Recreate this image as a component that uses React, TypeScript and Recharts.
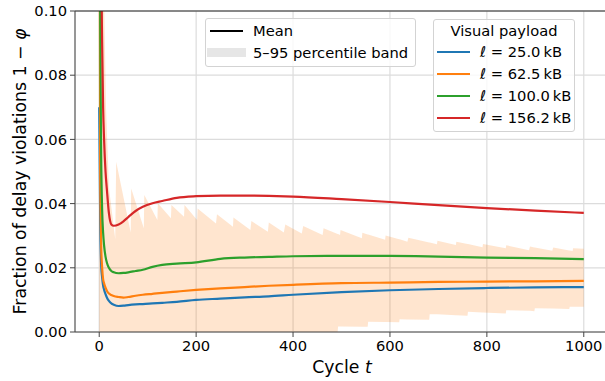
import {
  CartesianGrid,
  ComposedChart,
  Area,
  Line,
  ReferenceLine,
  XAxis,
  YAxis,
} from 'recharts';

const FONT = '"DejaVu Sans", sans-serif';

// cycle grid for the mean curves
const cycles = [0, 2, 4, 6, 8, 10, 13, 16, 20, 25, 30, 40, 50, 60, 75, 90, 110, 130, 160, 200, 250, 300, 350, 400, 500, 600, 700, 800, 900, 1000];

const mean25 = [0.07, 0.035, 0.021, 0.017, 0.0145, 0.0132, 0.0118, 0.0107, 0.0097, 0.0089, 0.0085, 0.0081, 0.0082, 0.0084, 0.0086, 0.0087, 0.0089, 0.0091, 0.0094, 0.01, 0.0104, 0.0108, 0.0111, 0.0116, 0.0124, 0.013, 0.0134, 0.0137, 0.0139, 0.014];
const mean62 = [0.2, 0.05, 0.027, 0.02, 0.0165, 0.0152, 0.0138, 0.0128, 0.012, 0.0115, 0.0112, 0.0109, 0.0107, 0.0109, 0.0113, 0.0116, 0.0119, 0.0122, 0.0126, 0.0131, 0.0136, 0.014, 0.0144, 0.0147, 0.0152, 0.0154, 0.0156, 0.0157, 0.0158, 0.0159];
const mean100 = [0.25, 0.1, 0.055, 0.038, 0.031, 0.027, 0.0235, 0.0215, 0.02, 0.019, 0.0186, 0.0183, 0.0184, 0.0186, 0.019, 0.0194, 0.0203, 0.0209, 0.0213, 0.0217, 0.0228, 0.0232, 0.0234, 0.0236, 0.0237, 0.0237, 0.0235, 0.0232, 0.023, 0.0227];
const mean156 = [0.35, 0.2, 0.12, 0.09, 0.07, 0.06, 0.05, 0.044, 0.037, 0.0335, 0.0331, 0.0335, 0.0345, 0.0358, 0.0377, 0.039, 0.0401, 0.0408, 0.0418, 0.0423, 0.0425, 0.0425, 0.0424, 0.0422, 0.0414, 0.0405, 0.0395, 0.0386, 0.0378, 0.0371];

// 5-95 percentile band (shown for l = 62.5 kB)
const bandT = [0, 10, 14, 20, 33, 35, 65, 66, 92, 93, 120, 121, 148, 149, 175, 176, 202, 203, 241, 243, 276, 277, 312, 314, 348, 350, 381, 384, 418, 421, 461, 463, 492, 493, 497, 498, 542, 543, 554, 555, 590, 591, 619, 620, 636, 638, 681, 682, 697, 698, 736, 737, 760, 761, 791, 792, 839, 840, 887, 889, 898, 899, 935, 937, 970, 971, 977, 978, 1000];
const bandLow = [0, 0, 0, 0, 0, 0, 0, 0, 0, 0, 0, 0, 0, 0, 0, 0, 0, 0, 0, 0, 0, 0, 0, 0, 0, 0, 0, 0, 0, 0, 0, 0, 0, 0.0017, 0.0017, 0.0017, 0.0016, 0.0016, 0.0016, 0.0032, 0.0031, 0.0031, 0.003, 0.004, 0.0039, 0.0039, 0.0038, 0.0055, 0.0055, 0.0055, 0.0052, 0.0052, 0.0051, 0.0063, 0.0061, 0.0061, 0.0058, 0.0068, 0.0066, 0.0066, 0.0065, 0.0074, 0.0073, 0.0073, 0.0072, 0.0079, 0.0079, 0.0079, 0.0079];
const bandHigh = [0.12, 0.105, 0.07, 0.045, 0.029, 0.053, 0.031, 0.0447, 0.0323, 0.0427, 0.0349, 0.0401, 0.0354, 0.0396, 0.0359, 0.0396, 0.0349, 0.0385, 0.0338, 0.0367, 0.0328, 0.0357, 0.0318, 0.0346, 0.0312, 0.0341, 0.031, 0.0335, 0.0307, 0.033, 0.0302, 0.0323, 0.0305, 0.0305, 0.0302, 0.0318, 0.0292, 0.0309, 0.0304, 0.0304, 0.0287, 0.0301, 0.0289, 0.0289, 0.0281, 0.0294, 0.0279, 0.0279, 0.0273, 0.0284, 0.0271, 0.0281, 0.0274, 0.0274, 0.0264, 0.0274, 0.0261, 0.027, 0.0255, 0.0266, 0.0263, 0.0263, 0.0253, 0.0263, 0.0254, 0.0254, 0.0252, 0.0261, 0.0259];

const xTicks = [0, 200, 400, 600, 800, 1000];
const yTicks = [0, 0.02, 0.04, 0.06, 0.08, 0.1];

const series = [
  { label: '25.0', color: '#1f77b4', values: mean25 },
  { label: '62.5', color: '#ff7f0e', values: mean62 },
  { label: '100.0', color: '#2ca02c', values: mean100 },
  { label: '156.2', color: '#d62728', values: mean156 },
];

const bandData = bandT.map((t, i) => ({ t, band: [bandLow[i], bandHigh[i]] }));

const boxStyle: React.CSSProperties = {
  position: 'absolute',
  background: 'rgba(255,255,255,0.8)',
  border: '1px solid #d3d3d3',
  borderRadius: 3,
  boxSizing: 'border-box',
};

const textStyle: React.CSSProperties = {
  position: 'absolute',
  fontSize: 14.7,
  lineHeight: '18px',
  whiteSpace: 'nowrap',
  color: '#000',
};

export default function App() {
  return (
    <div
      style={{
        position: 'absolute',
        left: 0,
        top: 0,
        width: 605,
        height: 381,
        overflow: 'hidden',
        background: '#fff',
        fontFamily: FONT,
      }}
    >
      <ComposedChart width={610} height={381} margin={{ top: 11, right: 2, bottom: 0, left: 0 }}>
        <CartesianGrid stroke="#dcdcdc" strokeWidth={1.2} />
        <XAxis
          type="number"
          dataKey="t"
          domain={[-50, 1050]}
          ticks={xTicks}
          allowDataOverflow
          height={49}
          stroke="#444"
          tickSize={5}
          tickMargin={4}
          tick={{ fontSize: 14.7, fill: '#000', fontFamily: FONT }}
          label={{
            content: () => (
              <text x={342} y={373} textAnchor="middle" fontSize={17.3} fontFamily={FONT} fill="#000">
                Cycle <tspan fontStyle="italic">t</tspan>
              </text>
            ),
          }}
        />
        <YAxis
          type="number"
          domain={[0, 0.1]}
          ticks={yTicks}
          allowDataOverflow
          width={75}
          stroke="#444"
          tickSize={5}
          tickMargin={3}
          tickFormatter={(v: number) => v.toFixed(2)}
          tick={{ fontSize: 14.7, fill: '#000', fontFamily: FONT }}
          label={{
            content: () => (
              <text
                x={20}
                y={171.5}
                transform="rotate(-90 20 171.5)"
                textAnchor="middle"
                dominantBaseline="central"
                fontSize={17.3}
                fontFamily={FONT}
                fill="#000"
              >
                Fraction of delay violations 1 − <tspan fontStyle="italic">φ</tspan>
              </text>
            ),
          }}
        />
        <Area
          data={bandData}
          dataKey="band"
          type="linear"
          stroke="none"
          fill="#ff7f0e"
          fillOpacity={0.2}
          isAnimationActive={false}
          dot={false}
          activeDot={false}
        />
        {series.map((s) => (
          <Line
            key={s.label}
            data={cycles.map((t, i) => ({ t, v: s.values[i] }))}
            dataKey="v"
            type="monotone"
            stroke={s.color}
            strokeWidth={2.2}
            dot={false}
            activeDot={false}
            isAnimationActive={false}
          />
        ))}
        <ReferenceLine y={0.1} stroke="#222" strokeWidth={1} ifOverflow="visible" />
      </ComposedChart>

      <div style={{ ...boxStyle, left: 205, top: 18, width: 211, height: 49 }} />
      <div style={{ position: 'absolute', left: 210, top: 30, width: 33, height: 2, background: '#000' }} />
      <div style={{ ...textStyle, left: 253, top: 22 }}>Mean</div>
      <div style={{ position: 'absolute', left: 207, top: 48, width: 39, height: 9, background: '#e6e6e6' }} />
      <div style={{ ...textStyle, left: 253, top: 44 }}>5–95 percentile band</div>

      <div style={{ ...boxStyle, left: 433, top: 19, width: 142, height: 113 }} />
      <div style={{ ...textStyle, left: 433, width: 142, textAlign: 'center', top: 22 }}>Visual payload</div>
      {series.map((s, i) => (
        <div key={s.label}>
          <div
            style={{ position: 'absolute', left: 437, top: 51 + i * 22, width: 33, height: 2, background: s.color }}
          />
          <div style={{ ...textStyle, left: 480, top: 43 + i * 22 }}>
            <i>ℓ</i> = {s.label}{'\u2009'}kB
          </div>
        </div>
      ))}
    </div>
  );
}
